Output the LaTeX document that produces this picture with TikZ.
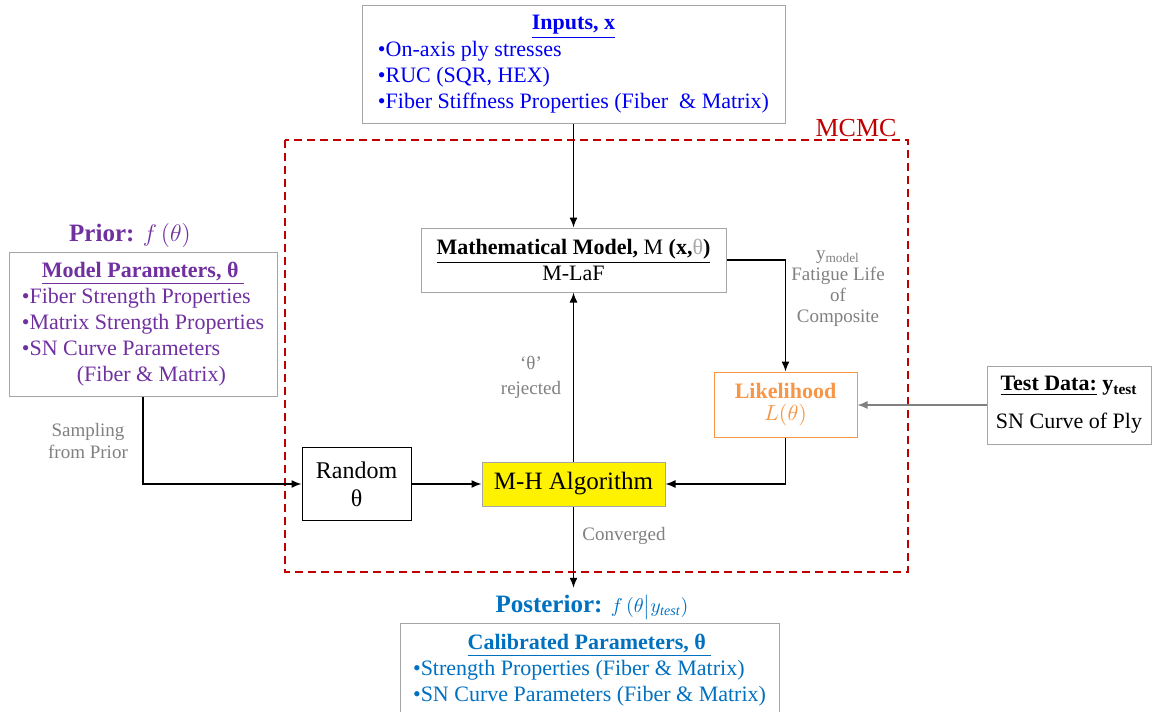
\documentclass[tikz,border=0pt]{standalone}
\usepackage{fontspec}
\setmainfont{Liberation Serif}
\usepackage{xcolor}
\definecolor{inblue}{RGB}{0,0,240}
\definecolor{priorpurple}{RGB}{112,48,160}
\definecolor{likeorange}{RGB}{247,150,70}
\definecolor{postblue}{RGB}{0,112,192}
\definecolor{mcmcred}{RGB}{192,0,0}
\definecolor{labelgray}{RGB}{128,128,128}
\definecolor{boxgray}{RGB}{165,165,165}
\usetikzlibrary{arrows.meta}

\begin{document}
\begin{tikzpicture}[
    x=0.5pt, y=-0.5pt, >={Latex[length=5pt,width=4pt]},
    box/.style={draw=boxgray, line width=0.5pt, inner sep=0pt, font=\fontsize{11}{13}\selectfont},
    flow/.style={->, line width=0.7pt},
    note/.style={labelgray, align=center, font=\fontsize{9.5}{10.5}\selectfont},
]
\useasboundingbox (0,0) rectangle (1153,712);

\draw[mcmcred, dashed, dash pattern=on 4pt off 2.5pt, line width=0.75pt] (285,140) rectangle (908,572);
\node[mcmcred, font=\fontsize{13}{15}\selectfont] (mcmc) at (856,128) {MCMC};

\node[box, text=inblue, minimum width=211.5pt, minimum height=59pt] (inputs) at (573.5,64)
  {\begin{tabular}{@{}l@{}}\multicolumn{1}{@{}c@{}}{\textbf{\underline{Inputs, x}}}\\
   •On-axis ply stresses\\ •RUC (SQR, HEX)\\ •Fiber Stiffness Properties (Fiber~ \& Matrix)\end{tabular}};
\node[box, align=center, minimum width=152.5pt, minimum height=32pt] (model) at (573.5,260)
  {\underline{\textbf{Mathematical Model,} M \textbf{(x,}\textcolor{boxgray}{θ}\textbf{)}}\\ M-LaF};
\node[box, draw=likeorange, text=likeorange, align=center, minimum width=71.5pt, minimum height=32.5pt] (likelihood) at (785.5,404.5)
  {\textbf{Likelihood}\\[-2pt] $L(\theta)$};
\node[box, align=center, minimum width=82pt, minimum height=39pt] (testdata) at (1069,405)
  {\underline{\textbf{Test Data:}} \textbf{y\textsubscript{test}}\\[6pt] SN Curve of Ply};
\node[box, fill=yellow, minimum width=91.5pt, minimum height=22pt, font=\fontsize{12.5}{15}\selectfont] (mh) at (573.5,484) {M-H Algorithm};
\node[draw, line width=0.5pt, inner sep=0pt, align=center, minimum width=54.5pt, minimum height=36.5pt,
  font=\fontsize{12}{14}\selectfont] (random) at (356.5,484) {Random\\ θ};

\node[priorpurple, font=\fontsize{12.5}{15}\selectfont] (prior) at (130,235) {\textbf{Prior:} $f\,(\theta)$};
\node[box, text=priorpurple, minimum width=134pt, minimum height=72pt] (params) at (143,324)
  {\begin{tabular}{@{}l@{}}\multicolumn{1}{@{}c@{}}{\textbf{\underline{Model Parameters, θ~}}}\\
   •Fiber Strength Properties\\ •Matrix Strength Properties\\ •SN Curve Parameters\\
   \hspace*{2.5em}(Fiber \& Matrix)\end{tabular}};

\node[postblue, font=\fontsize{12.5}{15}\selectfont] (posterior) at (592,607)
  {\textbf{Posterior:} {\fontsize{10}{12}\selectfont $f\,(\theta\big|y_{\mathit{test}})$}};
\node[box, text=postblue, minimum width=189.5pt, minimum height=47pt] (calib) at (589.5,670)
  {\begin{tabular}{@{}l@{}}\multicolumn{1}{@{}c@{}}{\textbf{\underline{Calibrated Parameters, θ~}}}\\
   •Strength Properties (Fiber \& Matrix)\\ •SN Curve Parameters (Fiber \& Matrix)\end{tabular}};

\node[note] (ymodel) at (838,289) {y\textsubscript{model}\\ Fatigue Life\\ of\\ Composite};
\node[note, font=\fontsize{9.5}{11}\selectfont] (sampling) at (88,441) {Sampling\\ from Prior};
\node[note, font=\fontsize{9.5}{12.5}\selectfont] (rejected) at (531,377) {‘θ’\\ rejected};
\node[note] (converged) at (624,536) {Converged};

\draw[flow] (inputs) -- (model);
\draw[flow] (model.east) -| (likelihood.north);
\draw[flow, labelgray] (testdata.west) -- (testdata.west -| likelihood.east);
\draw[flow] (likelihood.south) |- (mh.east);
\draw[flow] (random) -- (mh);
\draw[flow] (mh) -- (model);
\draw[flow] (params.south) |- (random.west);
\draw[flow] (mh.south) -- (mh.south |- posterior.north);
\end{tikzpicture}
\end{document}
